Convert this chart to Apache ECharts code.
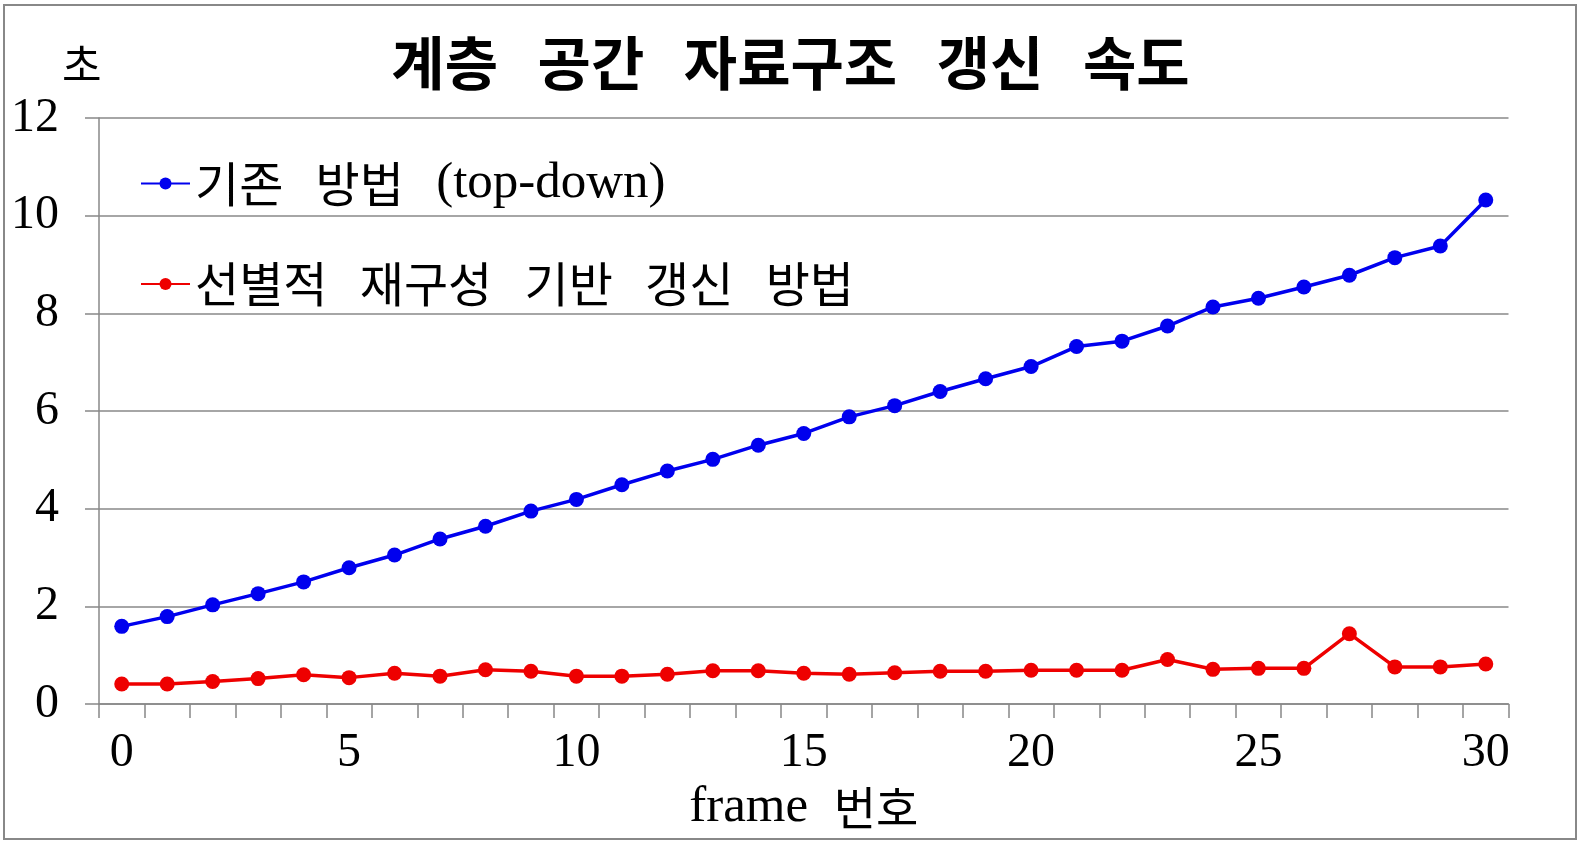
<!DOCTYPE html>
<html>
<head>
<meta charset="utf-8">
<script src="https://cdn.jsdelivr.net/npm/echarts@6/dist/echarts.min.js"></script>
<style>html,body{margin:0;padding:0;background:#fff;}#c{width:1581px;height:847px;}</style>
</head>
<body>
<div id="c"></div>
<script>
const frames = Array.from({length: 31}, (_, i) => String(i));
const topDown = [1.59,1.79,2.03,2.26,2.50,2.79,3.05,3.38,3.64,3.95,4.19,4.49,4.77,5.01,5.30,5.54,5.88,6.11,6.40,6.66,6.91,7.32,7.43,7.74,8.13,8.31,8.54,8.78,9.14,9.38,10.32];
const selective = [0.41,0.41,0.46,0.52,0.60,0.54,0.63,0.57,0.70,0.67,0.57,0.57,0.61,0.68,0.68,0.63,0.61,0.64,0.67,0.67,0.69,0.69,0.69,0.91,0.71,0.73,0.73,1.44,0.76,0.76,0.82];
const seriesNames = ['기존 방법 (top-down)', '선별적 재구성 기반 갱신 방법'];
const legendLabels = {
  '기존 방법 (top-down)': '{k|기존   방법   }{l|(top-down)}',
  '선별적 재구성 기반 갱신 방법': '{k|선별적   재구성   기반   갱신   방법}'
};
const titleText = '계층   공간   자료구조   갱신   속도';
const xName = '{l|frame  }{k|번호}';
const yName = '초';

const serif = 'Liberation Serif, Noto Sans CJK KR, serif';
const kr = 'Noto Sans CJK KR';
const chart = echarts.init(document.getElementById('c'), null, {renderer: 'canvas'});
chart.setOption({
  animation: false,
  backgroundColor: '#fff',
  title: {
    text: titleText,
    left: 'center',
    top: 29,
    textStyle: {fontFamily: kr, fontSize: 58, fontWeight: 'bold', color: '#000'}
  },
  legend: {
    orient: 'vertical',
    left: 135,
    top: 153,
    itemWidth: 49,
    itemHeight: 15,
    itemGap: 50,
    formatter: function (n) { return legendLabels[n]; },
    textStyle: {
      color: '#000', lineHeight: 50,
      rich: {
        k: {fontFamily: kr, fontSize: 48, color: '#000', lineHeight: 50},
        l: {fontFamily: 'Liberation Serif', fontSize: 51, color: '#000', lineHeight: 50}
      }
    },
    data: seriesNames
  },
  graphic: [
    {type: 'rect', shape: {x: 4, y: 5, width: 1572, height: 834}, style: {fill: 'none', stroke: '#888', lineWidth: 2}, silent: true},
    {type: 'text', left: 62, top: 43, style: {text: yName, fontFamily: kr, fontSize: 43, fill: '#000'}}
  ],
  grid: {left: 99, right: 72.5, top: 118, bottom: 143},
  xAxis: {
    type: 'category',
    data: frames,
    boundaryGap: true,
    name: xName,
    nameLocation: 'middle',
    nameGap: 72,
    nameTextStyle: {
      rich: {
        l: {fontFamily: 'Liberation Serif', fontSize: 51, color: '#000'},
        k: {fontFamily: kr, fontSize: 46, color: '#000'}
      }
    },
    axisLine: {show: true, lineStyle: {color: '#888', width: 1.5}},
    axisTick: {show: true, interval: 0, length: 14, lineStyle: {color: '#888', width: 1.5}},
    axisLabel: {interval: 4, margin: 25, fontFamily: serif, fontSize: 48, color: '#000'},
    splitLine: {show: false}
  },
  yAxis: {
    type: 'value',
    min: 0,
    max: 12,
    interval: 2,
    axisLine: {show: true, lineStyle: {color: '#888', width: 1.5}},
    axisTick: {show: true, length: 14, lineStyle: {color: '#888', width: 1.5}},
    axisLabel: {margin: 40, fontFamily: serif, fontSize: 48, color: '#000'},
    splitLine: {show: true, lineStyle: {color: '#888', width: 1.5}}
  },
  series: [
    {name: seriesNames[0], type: 'line', data: topDown, symbol: 'circle', symbolSize: 15,
     itemStyle: {color: '#0000ee'}, lineStyle: {color: '#0000ee', width: 3.5}},
    {name: seriesNames[1], type: 'line', data: selective, symbol: 'circle', symbolSize: 15,
     itemStyle: {color: '#ee0000'}, lineStyle: {color: '#ee0000', width: 3.5}}
  ]
});
</script>
</body>
</html>
